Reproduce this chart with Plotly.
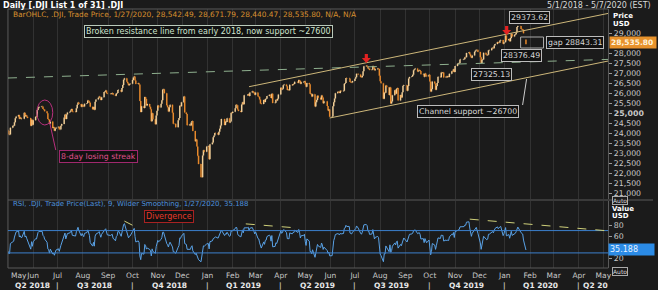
import numpy as np
import pandas as pd
import plotly.graph_objects as go
from plotly.subplots import make_subplots

W, H = 658, 290

# ---------------- DATA ----------------
holidays = ["2018-05-28", "2018-07-04", "2018-09-03", "2018-11-22", "2018-12-05", "2018-12-25",
            "2019-01-01", "2019-01-21", "2019-02-18", "2019-04-19", "2019-05-27", "2019-07-04",
            "2019-09-02", "2019-11-28", "2019-12-25", "2020-01-01", "2020-01-20"]

# daily closes (.DJI), April 2018 used only as RSI warm-up
close_2018_04 = [24573, 24787, 24748, 24665, 24463, 24448, 24024, 24084, 24322, 24311, 24163]
close_2018_05 = [24100, 23925, 23930, 24263, 24358, 24361, 24543, 24740, 24831, 24900, 24707, 24769, 24714,
                 24715, 25013, 24835, 24887, 24812, 24753, 24362, 24668, 24416]
close_2018_06 = [24635, 24813, 24799, 25146, 25241, 25317, 25322, 25320, 25201, 25175, 25090, 24988, 24700,
                 24657, 24462, 24581, 24252, 24284, 24117, 24216, 24271]
close_2018_07 = [24307, 24175, 24357, 24456, 24776, 24920, 24700, 24925, 25019, 25064, 25120, 25200, 25065,
                 25058, 25044, 25241, 25415, 25527, 25451, 25307, 25415]
close_2018_08 = [25333, 25327, 25463, 25502, 25629, 25584, 25509, 25313, 25188, 25299, 25162, 25559, 25669,
                 25758, 25822, 25733, 25656, 25790, 26049, 26064, 26124, 25986, 25965]
close_2018_09 = [25952, 25975, 25995, 25917, 25857, 25971, 25998, 26145, 26154, 26062, 26247, 26406, 26657,
                 26743, 26562, 26492, 26385, 26440, 26458]
close_2018_10 = [26651, 26774, 26828, 26627, 26447, 26487, 26431, 25599, 25053, 25340, 25250, 25798, 25706,
                 25379, 25444, 25317, 25191, 24583, 24985, 24688, 24443, 24875, 25116]
close_2018_11 = [25380, 25271, 25462, 25636, 26181, 26191, 25989, 25387, 25287, 25081, 25290, 25414, 25018,
                 24466, 24465, 24286, 24640, 24749, 25366, 25339, 25538]
close_2018_12 = [25826, 25027, 24947, 24389, 24423, 24370, 24528, 24597, 24101, 23592, 23676, 23324, 22859,
                 22446, 21792, 22878, 23139, 23062, 23327]
close_2019_01 = [23347, 22686, 23433, 23531, 23787, 23879, 24002, 23996, 23910, 24066, 24207, 24370, 24706,
                 24405, 24576, 24553, 24737, 24529, 24580, 25015, 24999]
close_2019_02 = [25064, 25239, 25411, 25390, 25169, 25106, 25053, 25425, 25543, 25439, 25883, 25891, 25954,
                 25851, 26031, 26092, 26057, 25986, 25916]
close_2019_03 = [26026, 25820, 25807, 25673, 25473, 25450, 25651, 25555, 25702, 25710, 25849, 25914, 25887,
                 25746, 25963, 25502, 25516, 25658, 25626, 25717, 25929]
close_2019_04 = [26258, 26180, 26218, 26385, 26425, 26341, 26150, 26157, 26143, 26412, 26384, 26453, 26450,
                 26559, 26512, 26656, 26597, 26462, 26543, 26554, 26593]
close_2019_05 = [26430, 26308, 26505, 26439, 25965, 25968, 25828, 25942, 25325, 25532, 25648, 25863, 25764,
                 25680, 25877, 25776, 25490, 25586, 25348, 25127, 25170, 24815]
close_2019_06 = [24820, 25332, 25540, 25720, 25984, 26062, 26049, 26005, 26107, 26090, 26112, 26466, 26504,
                 26753, 26720, 26727, 26548, 26537, 26526, 26600]
close_2019_07 = [26717, 26787, 26966, 26922, 26806, 26784, 26860, 27088, 27332, 27359, 27336, 27220, 27223,
                 27154, 27172, 27350, 27270, 27141, 27193, 27222, 27199, 26864]
close_2019_08 = [26583, 26485, 25718, 26030, 26008, 26378, 26287, 25897, 26280, 25479, 25579, 25886, 26136,
                 25962, 26202, 26253, 25629, 25898, 25778, 26036, 26363, 26403]
close_2019_09 = [26118, 26355, 26728, 26797, 26835, 26910, 27137, 27182, 27220, 27076, 27111, 27147, 27095,
                 26935, 26950, 26808, 26970, 26891, 26820, 26917]
close_2019_10 = [26573, 26079, 26202, 26573, 26478, 26164, 26347, 26497, 26817, 26787, 27025, 27001, 27026,
                 26770, 26827, 26788, 26833, 26806, 26958, 27091, 27071, 27186, 27046]
close_2019_11 = [27347, 27462, 27492, 27493, 27675, 27681, 27691, 27691, 27784, 27782, 28005, 28036, 27934,
                 27821, 27767, 27876, 28067, 28122, 28165, 28051]
close_2019_12 = [27783, 27503, 27650, 27678, 28015, 27910, 27882, 27912, 28132, 28135, 28236, 28268, 28240,
                 28377, 28455, 28551, 28516, 28621, 28645, 28462, 28538]
close_2020_01 = [28869, 28634, 28703, 28584, 28745, 28957, 28824, 28907, 28940, 29030, 29298, 29348, 29196,
                 29186, 29160, 28990, 28536]

last_bar_ohlc = [28542.49, 28671.79, 28440.47, 28535.80]   # 1/27/2020 O, H, L, C
rsi_last = 35.188

# analyst trend lines (date, price)
resistance_2018 = [("2018-05-01", 26750), ("2020-05-07", 27680)]
channel_upper = [("2019-02-21", 26315), ("2020-05-07", 29980)]
channel_lower = [("2019-05-31", 24750), ("2020-05-07", 27600)]
# RSI divergence lines (date, RSI)
divergences = [[("2018-09-21", 87), ("2018-10-05", 76.5)],
               [("2019-02-17", 82), ("2019-04-23", 74.5)],
               [("2019-11-19", 90.5), ("2020-05-07", 69.5)]]

price_ticks = [v for v in range(21000, 29001, 500) if v != 28500]
rsi_ticks = [20, 60, 80]
month_ticks = pd.date_range("2018-05-01", "2020-05-01", freq="MS")
quarter_labels = [("2018-05-31", "Q2 2018"), ("2018-08-15", "Q3 2018"), ("2018-11-15", "Q4 2018"),
                  ("2019-02-14", "Q1 2019"), ("2019-05-16", "Q2 2019"), ("2019-08-15", "Q3 2019"),
                  ("2019-11-15", "Q4 2019"), ("2020-02-14", "Q1 2020")]
quarter_seps = ["2018-07-01", "2018-10-01", "2019-01-01", "2019-04-01", "2019-07-01", "2019-10-01",
                "2020-01-01", "2020-04-01"]

# ---------------- BUILD SERIES ----------------
months = [("2018-04-16", close_2018_04), ("2018-05-01", close_2018_05), ("2018-06-01", close_2018_06),
          ("2018-07-01", close_2018_07), ("2018-08-01", close_2018_08), ("2018-09-01", close_2018_09),
          ("2018-10-01", close_2018_10), ("2018-11-01", close_2018_11), ("2018-12-01", close_2018_12),
          ("2019-01-01", close_2019_01), ("2019-02-01", close_2019_02), ("2019-03-01", close_2019_03),
          ("2019-04-01", close_2019_04), ("2019-05-01", close_2019_05), ("2019-06-01", close_2019_06),
          ("2019-07-01", close_2019_07), ("2019-08-01", close_2019_08), ("2019-09-01", close_2019_09),
          ("2019-10-01", close_2019_10), ("2019-11-01", close_2019_11), ("2019-12-01", close_2019_12),
          ("2020-01-01", close_2020_01)]
hol = set(pd.to_datetime(holidays))
dates, closes = [], []
for start, vals in months:
    s = pd.Timestamp(start)
    e = s + pd.offsets.MonthEnd(0)
    if s.year == 2020:
        e = pd.Timestamp("2020-01-27")
    d = [x for x in pd.bdate_range(s, e) if x not in hol]
    if len(d) != len(vals):
        raise ValueError(f"{start}: {len(d)} days vs {len(vals)} values")
    dates += d
    closes += list(vals)
closes = np.array(closes, dtype=float)
closes[-1] = last_bar_ohlc[3]
opens = np.concatenate([[closes[0]], closes[:-1]])
highs = np.maximum(opens, closes)
lows = np.minimum(opens, closes)
opens[-1], highs[-1], lows[-1] = last_bar_ohlc[0], last_bar_ohlc[1], last_bar_ohlc[2]

# RSI 9, Wilder smoothing
n = 9
delta = np.diff(closes)
gain = np.where(delta > 0, delta, 0.0)
loss = np.where(delta < 0, -delta, 0.0)
rsi = np.full(len(closes), np.nan)
ag, al = gain[:n].mean(), loss[:n].mean()
rsi[n] = 100 - 100 / (1 + ag / al)
for i in range(n, len(delta)):
    ag = (ag * (n - 1) + gain[i]) / n
    al = (al * (n - 1) + loss[i]) / n
    rsi[i + 1] = 100 - 100 / (1 + ag / al)

# ---------------- FIGURE ----------------
def px(x):
    return x / W

def py(y):
    return 1 - y / H

BG = "#1b1b1b"
GRID = "#323232"
FONT = "DejaVu Sans"
X0, X1 = 8, 611

fig = make_subplots(rows=2, cols=1, shared_xaxes=True)
fig.add_trace(go.Ohlc(x=dates, open=opens, high=highs, low=lows, close=closes,
                      increasing=dict(line=dict(color="#f2cf98", width=1.5)),
                      decreasing=dict(line=dict(color="#e8892b", width=1.5)),
                      tickwidth=0.3, showlegend=False, hoverinfo="skip"), row=1, col=1)
fig.add_trace(go.Scatter(x=dates, y=rsi, mode="lines", line=dict(color="#5aa2e6", width=1),
                         showlegend=False, hoverinfo="skip"), row=2, col=1)

xr = ["2018-05-01", "2020-05-07"]
month_txt = [d.strftime("%b") for d in month_ticks]
for ax in ("xaxis", "xaxis2"):
    fig.layout[ax].update(range=xr, domain=[px(X0), px(X1)], tickvals=list(month_ticks[1:]),
                          ticktext=month_txt[1:], showgrid=True, gridcolor=GRID, gridwidth=1,
                          zeroline=False, showline=False, rangeslider=dict(visible=False),
                          tickfont=dict(family=FONT, size=7.5, color="#c8c8c8"), ticks="")
fig.layout.xaxis.showticklabels = False
fig.layout.xaxis2.ticklabelstandoff = 1

price_txt = [("<b>%s</b>" % f"{v:,}") if v == 25000 else f"{v:,}" for v in price_ticks]
fig.layout.yaxis.update(domain=[py(199), py(9)], range=[20700, 30200], side="right",
                        tickvals=price_ticks, ticktext=price_txt, showgrid=False, zeroline=False,
                        ticks="outside", ticklen=3, tickcolor="#999", showline=True, linecolor="#5a5a5a",
                        tickfont=dict(family=FONT, size=7.8, color="#c8c8c8"))
fig.layout.yaxis2.update(domain=[py(268), py(201)], range=[3, 123], side="right",
                         tickvals=rsi_ticks, showgrid=False, zeroline=False,
                         ticks="outside", ticklen=3, tickcolor="#999", showline=True, linecolor="#5a5a5a",
                         tickfont=dict(family=FONT, size=7.8, color="#c8c8c8"))

shapes = []
# panel frame
shapes.append(dict(type="line", xref="paper", yref="paper", x0=px(X0), x1=px(X0), y0=py(9), y1=py(268),
                   line=dict(color="#5a5a5a", width=1)))
shapes.append(dict(type="line", xref="paper", yref="paper", x0=px(X0), x1=px(X1), y0=py(9), y1=py(9),
                   line=dict(color="#5a5a5a", width=1)))
shapes.append(dict(type="line", xref="paper", yref="paper", x0=px(X0), x1=px(656), y0=py(200), y1=py(200),
                   line=dict(color="#5a5a5a", width=1)))
shapes.append(dict(type="line", xref="paper", yref="paper", x0=px(X0), x1=px(X1), y0=py(268), y1=py(268),
                   line=dict(color="#5a5a5a", width=1)))
# trend lines
(a, b) = resistance_2018
shapes.append(dict(type="line", xref="x", yref="y", x0=a[0], y0=a[1], x1=b[0], y1=b[1],
                   line=dict(color="#8fb08f", width=1, dash="dash")))
for (a, b) in (channel_upper, channel_lower):
    shapes.append(dict(type="line", xref="x", yref="y", x0=a[0], y0=a[1], x1=b[0], y1=b[1],
                       line=dict(color="#cdb77a", width=1)))
# RSI 70/30 lines
for lvl in (70, 30):
    shapes.append(dict(type="line", xref="paper", yref="y2", x0=px(X0), x1=px(X1), y0=lvl, y1=lvl,
                       line=dict(color="#3b7fcc", width=1)))
for (a, b) in divergences:
    shapes.append(dict(type="line", xref="x2", yref="y2", x0=a[0], y0=a[1], x1=b[0], y1=b[1],
                       line=dict(color="#cfd07a", width=1, dash="dash")))
# channel support leader
shapes.append(dict(type="line", xref="paper", yref="paper", x0=px(529), y0=py(79), x1=px(525), y1=py(105),
                   line=dict(color="#cccccc", width=1)))
# gap box
shapes.append(dict(type="rect", xref="paper", yref="paper", x0=px(523), x1=px(546), y0=py(37), y1=py(48),
                   line=dict(color="#aaaaaa", width=1)))
# magenta ellipse + leader
shapes.append(dict(type="circle", xref="paper", yref="paper", x0=px(37), x1=px(53), y0=py(100), y1=py(125),
                   line=dict(color="#b8307e", width=1)))
shapes.append(dict(type="line", xref="paper", yref="paper", x0=px(50), y0=py(123), x1=px(56), y1=py(150),
                   line=dict(color="#b8307e", width=1)))
# red arrows
def arrow(cx, ty):
    pts = [(cx - 1.6, ty), (cx + 1.6, ty), (cx + 1.6, ty + 4), (cx + 4.5, ty + 4), (cx, ty + 9),
           (cx - 4.5, ty + 4), (cx - 1.6, ty + 4)]
    return "M " + " L ".join(f"{px(x):.5f},{py(y):.5f}" for x, y in pts) + " Z"
for cx, ty in ((368, 54), (509, 26)):
    shapes.append(dict(type="path", xref="paper", yref="paper", path=arrow(cx, ty),
                       fillcolor="#e32222", line=dict(color="#e32222", width=0)))

ann = []
def text(x, y, t, color="#d0d0d0", size=8, xanchor="left", bold=False, **kw):
    ann.append(dict(xref="paper", yref="paper", x=px(x), y=py(y), text=("<b>%s</b>" % t) if bold else t,
                    showarrow=False, xanchor=xanchor, yanchor="middle",
                    font=dict(family=FONT, size=size, color=color), **kw))

def box(cx, cy, t, color="#d8d8d8", border="#bcbcbc", size=8, bg="#111111"):
    ann.append(dict(xref="paper", yref="paper", x=px(cx), y=py(cy), text=t, showarrow=False,
                    xanchor="center", yanchor="middle", bgcolor=bg, bordercolor=border, borderwidth=1,
                    borderpad=1, font=dict(family=FONT, size=size, color=color)))

text(1, 5, "Daily [.DJI List 1 of 31] .DJI", color="#ffffff", size=8, bold=True)
text(656, 5, "5/1/2018 - 5/7/2020 (EST)", color="#d8d8d8", size=8, xanchor="right")
text(11, 15, "BarOHLC, .DJI, Trade Price, 1/27/2020, 28,542.49, 28,671.79, 28,440.47, 28,535.80, N/A, N/A",
     color="#d8902e", size=7.4)
text(614, 16, "Price", color="#ffffff", size=7, bold=True)
text(614, 24, "USD", color="#ffffff", size=7, bold=True)
text(614, 208.5, "Value", color="#ffffff", size=7, bold=True, borderpad=0)
text(614, 215.5, "USD", color="#ffffff", size=7, bold=True, borderpad=0)
text(11, 204, "RSI, .DJI, Trade Price(Last), 9, Wilder Smoothing, 1/27/2020, %.3f" % rsi_last,
     color="#4d90dc", size=7)
for yy in (200.5, 271.5):
    ann.append(dict(xref="paper", yref="paper", x=px(615), y=py(yy), text="Auto", showarrow=False,
                    xanchor="left", yanchor="middle", bordercolor="#aaaaaa", borderwidth=1, borderpad=0,
                    bgcolor=BG, font=dict(family=FONT, size=6, color="#d8d8d8")))
ann.append(dict(xref="paper", yref="paper", x=px(612), y=py(42.5), text="<b>%s</b>" % f"{last_bar_ohlc[3]:,.2f}",
                showarrow=False, xanchor="left", yanchor="middle", bgcolor="#e8922c", borderpad=1, width=44,
                align="left", font=dict(family=FONT, size=7.5, color="#fff4dc")))
ann.append(dict(xref="paper", yref="paper", x=px(611), y=py(249.5), text="%.3f" % rsi_last,
                showarrow=False, xanchor="left", yanchor="middle", bgcolor="#2b8be6", borderpad=1, width=43,
                align="left", font=dict(family=FONT, size=8, color="#e8f2ff")))

box(209, 31.5, "Broken resistance line from early 2018, now support ~27600", color="#cfe3cf",
    border="#b9c9b9", size=8)
box(470, 111, "Channel support ~26700", size=7.8)
box(494, 74, "27325.13", size=7.8)
box(524, 55, "28376.49", size=7.8)
box(532, 17.5, "29373.62", size=7.8)
box(578, 42.5, "gap 28843.31", size=7.8)
box(98.5, 156, "8-day losing streak", color="#e0508c", border="#a0286e", size=7.8)
box(170, 216, "Divergence", color="#e23a2a", border="#a82222", size=8)

# x-axis: first month label (at range edge) and quarter row
ann.append(dict(xref="paper", yref="paper", x=px(9), y=py(275.5), text=month_txt[0], showarrow=False,
                xanchor="left", yanchor="middle", font=dict(family=FONT, size=7.5, color="#c8c8c8")))
for d, t in quarter_labels:
    ann.append(dict(xref="x2", yref="paper", x=d, y=py(285.5), text="<b>%s</b>" % t, showarrow=False,
                    xanchor="center", yanchor="middle", font=dict(family=FONT, size=7.5, color="#e8e8e8")))
for d in quarter_seps:
    ann.append(dict(xref="x2", yref="paper", x=d, y=py(285.5), text="|", showarrow=False,
                    xanchor="center", yanchor="middle", font=dict(family=FONT, size=7.5, color="#e8e8e8")))
ann.append(dict(xref="x2", yref="paper", x="2020-04-03", y=py(285.5), text="<b>Q2 20</b>", showarrow=False,
                xanchor="left", yanchor="middle", font=dict(family=FONT, size=7.5, color="#e8e8e8")))

fig.update_layout(width=W, height=H, margin=dict(l=0, r=0, t=0, b=0), paper_bgcolor=BG, plot_bgcolor=BG,
                  shapes=shapes, annotations=ann, showlegend=False, font=dict(family=FONT))
fig.write_html("out.html")
